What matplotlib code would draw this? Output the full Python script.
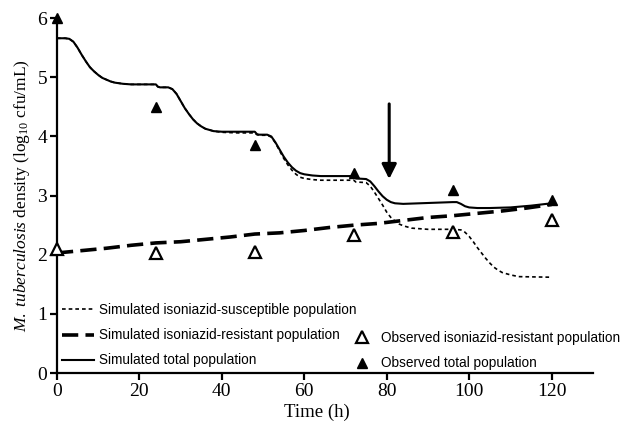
import numpy as np
import matplotlib.pyplot as plt
from matplotlib.lines import Line2D

plt.rcParams['font.family'] = 'Liberation Serif'
plt.rcParams['mathtext.fontset'] = 'custom'
plt.rcParams['mathtext.rm'] = 'Liberation Serif'
plt.rcParams['mathtext.it'] = 'Liberation Serif:italic'

# simulated total population
t_total = [0, 1, 2, 3, 4, 5, 6, 7, 8, 9, 10, 11, 12, 13, 14, 16, 18, 20, 24,
           24.5, 25, 27, 28, 29, 30, 31, 32, 33, 34, 35, 36, 37, 38, 40, 44, 48,
           48.5, 49, 51, 52, 53, 54, 55, 56, 57, 58, 59, 60, 62, 64, 68, 72,
           72.5, 75, 76, 77, 78, 79, 80, 81, 82, 84, 88, 92, 96, 97, 98, 99, 100,
           102, 105, 110, 115, 120]
y_total = [5.66, 5.66, 5.66, 5.65, 5.6, 5.5, 5.38, 5.27, 5.17, 5.1, 5.04, 4.99, 4.96, 4.93, 4.91, 4.89, 4.88, 4.88, 4.88,
           4.84, 4.83, 4.83, 4.8, 4.72, 4.6, 4.48, 4.38, 4.29, 4.22, 4.17, 4.13, 4.11, 4.09, 4.08, 4.08, 4.08,
           4.04, 4.03, 4.03, 4.0, 3.9, 3.78, 3.66, 3.56, 3.48, 3.42, 3.38, 3.36, 3.34, 3.33, 3.33, 3.33,
           3.29, 3.28, 3.24, 3.16, 3.07, 2.99, 2.93, 2.89, 2.87, 2.86, 2.87, 2.88, 2.89, 2.89, 2.86, 2.82, 2.8,
           2.79, 2.79, 2.8, 2.83, 2.87]

# simulated isoniazid-susceptible population
t_sus = [0, 1, 2, 3, 4, 5, 6, 7, 8, 9, 10, 11, 12, 13, 14, 16, 18, 20, 24,
         24.5, 25, 27, 28, 29, 30, 31, 32, 33, 34, 35, 36, 37, 38, 40, 44, 48,
         48.5, 49, 51, 52, 53, 54, 55, 56, 57, 58, 59, 60, 62, 64, 68, 72,
         72.5, 75, 76, 77, 78, 79, 80, 81, 82, 83, 84, 86, 90, 96, 98, 99, 100,
         101, 102, 103, 104, 105, 106, 107, 108, 110, 112, 120]
y_sus = [5.66, 5.66, 5.66, 5.65, 5.6, 5.5, 5.38, 5.27, 5.17, 5.1, 5.04, 4.99, 4.96, 4.93, 4.91, 4.89, 4.88, 4.88, 4.88,
         4.84, 4.83, 4.83, 4.8, 4.72, 4.6, 4.48, 4.38, 4.29, 4.22, 4.17, 4.13, 4.11, 4.09, 4.07, 4.06, 4.06,
         4.03, 4.02, 4.02, 3.99, 3.89, 3.76, 3.63, 3.52, 3.43, 3.36, 3.31, 3.29, 3.27, 3.26, 3.26, 3.26,
         3.23, 3.22, 3.16, 3.06, 2.95, 2.84, 2.72, 2.63, 2.57, 2.52, 2.49, 2.45, 2.43, 2.43, 2.42, 2.38, 2.31,
         2.22, 2.12, 2.03, 1.94, 1.86, 1.79, 1.74, 1.7, 1.66, 1.63, 1.62]

# simulated isoniazid-resistant population
t_res = [0, 6, 12, 18, 24, 30, 36, 42, 48, 54, 60, 66, 72, 78, 84, 90, 96, 102, 108, 114, 120]
y_res = [2.03, 2.07, 2.11, 2.16, 2.2, 2.22, 2.26, 2.3, 2.35, 2.37, 2.41, 2.46, 2.5, 2.53, 2.58, 2.63, 2.66, 2.7, 2.74, 2.79, 2.85]

# observed data
t_obs = [0, 24, 48, 72, 96, 120]
obs_total = [6.0, 4.5, 3.85, 3.39, 3.09, 2.92]
obs_res = [2.1, 2.03, 2.04, 2.33, 2.38, 2.58]

fig = plt.figure(figsize=(6.26, 4.22), dpi=100)
ax = fig.add_axes([0.091, 0.116, 0.856, 0.841])

ax.plot(t_sus, y_sus, color='k', lw=1.2, ls=(0, (2.2, 1.8)))
ax.plot(t_res, y_res, color='k', lw=2.6, ls=(0, (4.5, 2)))
ax.plot(t_total, y_total, color='k', lw=1.5)
ax.plot(t_obs, obs_res, ls='none', marker='^', ms=9, mfc='white', mec='k', mew=1.6, clip_on=False, zorder=5)
ax.plot(t_obs, obs_total, ls='none', marker='^', ms=7, color='k', clip_on=False, zorder=5)

# arrow marking the change
ax.annotate('', xy=(80.6, 3.28), xytext=(80.6, 4.55),
            arrowprops=dict(arrowstyle='-|>', lw=2.2, color='k', mutation_scale=22, shrinkA=0, shrinkB=0))

ax.set_xlim(0, 130)
ax.set_ylim(0, 6)
ax.set_xticks([0, 20, 40, 60, 80, 100, 120])
ax.set_yticks([0, 1, 2, 3, 4, 5, 6])
for s in ['top', 'right']:
    ax.spines[s].set_visible(False)
for s in ['left', 'bottom']:
    ax.spines[s].set_linewidth(1.6)
ax.tick_params(width=1.6, length=5, labelsize=14, direction='out', pad=2)
ax.set_xlabel('Time (h)', fontsize=13.5, labelpad=3)
ax.xaxis.set_label_coords(0.485, -0.085)
ax.set_ylabel(r'$\it{M.\ tuberculosis}$ density (log$_{10}$ cfu/mL)', fontsize=12.5, labelpad=4)

sans = {'family': 'Liberation Sans', 'size': 9.8}
h_lines = [Line2D([], [], color='k', lw=1.2, ls=(0, (2.2, 1.8))),
           Line2D([], [], color='k', lw=2.6, ls=(0, (4.5, 2))),
           Line2D([], [], color='k', lw=1.5)]
leg1 = ax.legend(h_lines, ['Simulated isoniazid-susceptible population',
                           'Simulated isoniazid-resistant population',
                           'Simulated total population'],
                 loc='upper left', bbox_to_anchor=(0.009, 0.197), frameon=False, prop=sans,
                 handlelength=2.4, handletextpad=0.36, labelspacing=0.82, borderpad=0, borderaxespad=0)
ax.add_artist(leg1)
h_marks = [Line2D([], [], ls='none', marker='^', ms=9, mfc='white', mec='k', mew=1.6),
           Line2D([], [], ls='none', marker='^', ms=7, color='k')]
ax.legend(h_marks, ['Observed isoniazid-resistant population', 'Observed total population'],
          loc='upper left', bbox_to_anchor=(0.55, 0.118), frameon=False, prop=sans,
          handlelength=1.5, handletextpad=0.65, labelspacing=0.82, borderpad=0, borderaxespad=0)

fig.savefig('out.png', dpi=100)
